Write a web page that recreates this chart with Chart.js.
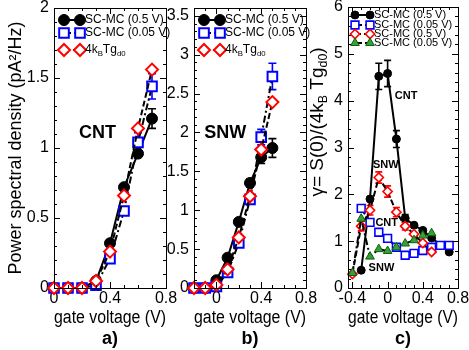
<!DOCTYPE html>
<html>
<head>
<meta charset="utf-8">
<script src="https://cdn.jsdelivr.net/npm/chart.js@4.4.1/dist/chart.umd.min.js"></script>
<style>
  html, body { margin: 0; padding: 0; background: #fff; }
  #wrap { position: relative; width: 469px; height: 350px; }
  #wrap canvas { position: absolute; left: 0; top: 0; }
</style>
</head>
<body>
<div id="wrap">
  <canvas id="chartA" width="469" height="350"></canvas>
  <canvas id="chartB" width="469" height="350"></canvas>
  <canvas id="chartC" width="469" height="350"></canvas>
</div>
<script>
// ---- panel a) CNT ----
const gateA = [0, 0.1, 0.2, 0.3, 0.4, 0.5, 0.6, 0.7];
const cntHighA = [0, 0, 0, 0.05, 0.32, 0.72, 0.96, 1.21];
const cntHighErrA = [0, 0, 0, 0, 0, 0, 0, 0.07];
const cntLowA = [0, 0, 0, 0.02, 0.21, 0.55, 1.04, 1.44];
const cntLowErrA = [0, 0, 0, 0, 0, 0, 0.07, 0.09];
const cntThermA = [0, 0, 0, 0.05, 0.26, 0.66, 1.14, 1.56];
const xTicksA = [0, 0.4, 0.8];
const yTicksA = [0, 0.5, 1, 1.5, 2];

// ---- panel b) SNW ----
const gateB = [-0.2, -0.1, 0, 0.1, 0.2, 0.3, 0.4, 0.5];
const snwHighB = [0, 0, 0.10, 0.39, 0.85, 1.35, 1.68, 1.80];
const snwHighErrB = [0, 0, 0, 0, 0, 0.05, 0.08, 0.12];
const snwLowB = [0, 0, 0.02, 0.20, 0.58, 1.14, 1.94, 2.72];
const snwLowErrB = [0, 0, 0, 0, 0, 0, 0.10, 0.17];
const snwThermB = [0, 0, 0.04, 0.24, 0.65, 1.18, 1.78, 2.39];
const xTicksB = [0, 0.4, 0.8];
const yTicksB = [0, 0.5, 1, 1.5, 2, 2.5, 3, 3.5];

// ---- panel c) gamma ----
const gateCntHighC = [-0.3, -0.2, -0.1, 0, 0.1, 0.2, 0.3, 0.4, 0.5, 0.7];
const cntHighC = [0.38, 1.90, 4.52, 4.58, 3.18, 1.49, 1.34, 1.23, 1.07, 0.77];
const cntHighErrC = [0, 0, 0.28, 0.28, 0.18, 0.08, 0, 0, 0, 0];
const gateCntLowC = [-0.3, -0.2, -0.1, 0, 0.1, 0.2, 0.3, 0.4, 0.5, 0.6, 0.7];
const cntLowC = [1.70, 1.40, 1.19, 1.06, 0.87, 0.70, 0.74, 0.80, 0.87, 0.91, 0.91];
const gateSnwC = [-0.4, -0.3, -0.2, -0.1, 0, 0.1, 0.2, 0.3, 0.4, 0.5];
const snwHighC = [0.30, 1.32, 1.66, 2.36, 2.06, 1.62, 1.32, 1.15, 0.96, 0.77];
const snwHighErrC = [0, 0.1, 0.1, 0.12, 0.12, 0.1, 0.08, 0, 0, 0];
const snwLowC = [0.32, 1.48, 0.67, 0.83, 0.79, 0.87, 0.95, 1.02, 1.12, 1.17];
const xTicksC = [-0.4, 0, 0.4, 0.8];
const yTicksC = [0, 1, 2, 3, 4, 5, 6];

const FONT = '"Liberation Sans", Arial, Helvetica, sans-serif';
Chart.defaults.font.family = FONT;
Chart.defaults.color = '#000';

const DASH_DOT = [7, 3, 2, 3];
const DASHED = [6, 3];

function pts(xs, ys) {
    return xs.map((x, i) => ({ x: x, y: ys[i] }));
}

function fmtTick(v) {
    return String(parseFloat(Number(v).toFixed(2)));
}

// marker looks
function circleLook(r) {
    return { pointStyle: 'circle', pointRadius: r, pointBackgroundColor: '#000', pointBorderColor: '#000',
             pointBorderWidth: 1, borderColor: '#000', borderWidth: 2, borderDash: [], errorColor: '#000' };
}
function squareLook(r, w) {
    return { pointStyle: 'rect', pointRadius: r, pointBackgroundColor: '#fff', pointBorderColor: '#0000ff',
             pointBorderWidth: w, borderColor: '#000', borderWidth: 2, borderDash: DASH_DOT, errorColor: '#0000ff' };
}
function diamondLook(r, w, dash) {
    return { pointStyle: 'rectRot', pointRadius: r, pointBackgroundColor: '#fff', pointBorderColor: '#ff0000',
             pointBorderWidth: w, borderColor: '#000', borderWidth: 2, borderDash: dash, errorColor: '#ff0000' };
}
function triangleLook(r) {
    return { pointStyle: 'triangle', pointRadius: r, pointBackgroundColor: '#3a9c3a', pointBorderColor: '#0a640a',
             pointBorderWidth: 1, borderColor: '#000', borderWidth: 2, borderDash: DASH_DOT, errorColor: '#0a640a' };
}

function series(xs, ys, errs, look, legendText, order) {
    return Object.assign({
        data: pts(xs, ys),
        errors: errs,
        showLine: true,
        clip: false,
        order: order,
        legendText: legendText,
        pointHoverRadius: look.pointRadius
    }, look);
}

// draws text made of normal + subscript parts, starting at x (baseline-middle y)
function drawParts(ctx, parts, x, y, size, weight) {
    let cx = x;
    parts.forEach(p => {
        const s = p.sub ? size * 0.65 : size;
        ctx.font = (weight || 'normal') + ' ' + s + 'px ' + FONT;
        ctx.fillText(p.t, cx, p.sub ? y + size * 0.3 : y);
        cx += ctx.measureText(p.t).width;
    });
    return cx - x;
}
function partsWidth(ctx, parts, size) {
    let w = 0;
    parts.forEach(p => {
        ctx.font = (p.sub ? size * 0.65 : size) + 'px ' + FONT;
        w += ctx.measureText(p.t).width;
    });
    return w;
}

const panelDecor = {
    id: 'panelDecor',
    beforeDatasetsDraw(chart, args, opts) {
        const ctx = chart.ctx, xs = chart.scales.x, ys = chart.scales.y;
        chart.data.datasets.forEach(ds => {
            if (!ds.errors) return;
            ctx.save();
            ctx.strokeStyle = ds.errorColor;
            ctx.lineWidth = 1.6;
            ds.data.forEach((p, i) => {
                const e = ds.errors[i];
                if (!e) return;
                const px = xs.getPixelForValue(p.x);
                const y1 = ys.getPixelForValue(p.y + e);
                const y2 = ys.getPixelForValue(p.y - e);
                ctx.beginPath();
                ctx.moveTo(px, y1); ctx.lineTo(px, y2);
                ctx.moveTo(px - opts.cap, y1); ctx.lineTo(px + opts.cap, y1);
                ctx.moveTo(px - opts.cap, y2); ctx.lineTo(px + opts.cap, y2);
                ctx.stroke();
            });
            ctx.restore();
        });
    },
    afterDraw(chart, args, opts) {
        const ctx = chart.ctx, a = chart.chartArea, xs = chart.scales.x, ys = chart.scales.y;
        ctx.save();
        // frame
        ctx.strokeStyle = '#000';
        ctx.lineWidth = 1;
        ctx.strokeRect(Math.round(a.left) + 0.5, Math.round(a.top) + 0.5,
                       Math.round(a.right - a.left), Math.round(a.bottom - a.top));
        // inward ticks, all four sides
        ctx.beginPath();
        const x0 = Math.ceil(xs.min / opts.minorX - 1e-6);
        for (let k = x0; k * opts.minorX <= xs.max + 1e-9; k++) {
            const v = k * opts.minorX;
            const major = Math.abs(v / opts.majorX - Math.round(v / opts.majorX)) < 1e-6;
            const len = major ? 6 : 3;
            const px = Math.round(xs.getPixelForValue(v)) + 0.5;
            ctx.moveTo(px, a.bottom); ctx.lineTo(px, a.bottom - len);
            ctx.moveTo(px, a.top); ctx.lineTo(px, a.top + len);
        }
        for (let k = 0; k * opts.minorY <= ys.max + 1e-9; k++) {
            const v = k * opts.minorY;
            const major = Math.abs(v / opts.majorY - Math.round(v / opts.majorY)) < 1e-6;
            const len = major ? 6 : 3;
            const py = Math.round(ys.getPixelForValue(v)) + 0.5;
            ctx.moveTo(a.left, py); ctx.lineTo(a.left + len, py);
            ctx.moveTo(a.right, py); ctx.lineTo(a.right - len, py);
        }
        ctx.stroke();

        // legend
        ctx.fillStyle = '#000';
        ctx.textBaseline = 'middle';
        ctx.textAlign = 'left';
        const items = chart.data.datasets.slice().sort((p, q) => p.legendRank - q.legendRank);
        items.forEach((ds, i) => {
            const y = a.top + opts.legend.rows[i];
            const m1 = a.left + opts.legend.m1, m2 = a.left + opts.legend.m2;
            ctx.save();
            ctx.strokeStyle = ds.borderColor;
            ctx.lineWidth = ds.borderWidth;
            ctx.setLineDash(ds.borderDash);
            ctx.beginPath(); ctx.moveTo(m1, y); ctx.lineTo(m2, y); ctx.stroke();
            ctx.setLineDash([]);
            ctx.fillStyle = ds.pointBackgroundColor;
            ctx.strokeStyle = ds.pointBorderColor;
            ctx.lineWidth = ds.pointBorderWidth;
            [m1, m2].forEach(mx => Chart.helpers.drawPoint(ctx, {
                pointStyle: ds.pointStyle, radius: ds.pointRadius, rotation: 0, borderWidth: ds.pointBorderWidth
            }, mx, y));
            ctx.restore();
            ctx.fillStyle = '#000';
            drawParts(ctx, ds.legendText, a.left + opts.legend.text, y, opts.legend.size);
        });

        // labels inside the panel
        ctx.textAlign = 'center';
        opts.notes.forEach(n => {
            ctx.font = 'bold ' + n.size + 'px ' + FONT;
            ctx.fillText(n.text, xs.getPixelForValue(n.x), ys.getPixelForValue(n.y));
        });

        // panel tag a) b) c)
        ctx.font = 'bold 18px ' + FONT;
        ctx.fillText(opts.tag, (a.left + a.right) / 2, 339);

        // rotated title with subscripts
        if (opts.yTitle) {
            const w = partsWidth(ctx, opts.yTitle.parts, opts.yTitle.size);
            ctx.translate(a.left - opts.yTitle.dx, opts.yTitle.cy);
            ctx.rotate(-Math.PI / 2);
            ctx.textAlign = 'left';
            drawParts(ctx, opts.yTitle.parts, -w / 2, 0, opts.yTitle.size);
        }
        ctx.restore();
    }
};

function axes(o) {
    return {
        x: {
            type: 'linear', position: 'bottom', min: o.xMin, max: o.xMax,
            grid: { display: false, drawTicks: false }, border: { display: false },
            afterBuildTicks: s => { s.ticks = o.xTicks.map(v => ({ value: v })); },
            ticks: { color: '#000', padding: 1, maxRotation: 0, autoSkip: false, font: { size: 16 }, callback: fmtTick },
            title: { display: true, text: 'gate voltage (V)', color: '#000', font: { size: 18 }, padding: 0 },
            afterFit: s => { s.height = 41; s.paddingLeft = 0; s.paddingRight = 0; }
        },
        y: {
            type: 'linear', position: 'left', min: 0, max: o.yMax,
            grid: { display: false, drawTicks: false }, border: { display: false },
            afterBuildTicks: s => { s.ticks = o.yTicks.map(v => ({ value: v })); },
            ticks: { color: '#000', padding: 5, autoSkip: false, font: { size: 16 }, callback: fmtTick },
            title: { display: !!o.yTitle, text: o.yTitle || '', color: '#000', font: { size: 18 }, padding: 0 },
            afterFit: s => { s.width = o.yWidth; s.paddingTop = 0; s.paddingBottom = 0; }
        }
    };
}

function makeChart(id, datasets, o, decor) {
    return new Chart(document.getElementById(id), {
        type: 'scatter',
        data: { datasets: datasets },
        options: {
            responsive: false,
            animation: false,
            events: [],
            layout: { autoPadding: false, padding: o.padding },
            scales: axes(o),
            plugins: { legend: { display: false }, tooltip: { enabled: false }, panelDecor: decor }
        },
        plugins: [panelDecor]
    });
}

const txtHigh = [{ t: 'SC-MC (0.5 V)' }];
const txtLow = [{ t: 'SC-MC (0.05 V)' }];
const txtTherm = [{ t: '4k' }, { t: 'B', sub: true }, { t: 'Tg' }, { t: 'd0', sub: true }];

function withRank(ds, r) { ds.legendRank = r; return ds; }

// a)
makeChart('chartA', [
    withRank(series(gateA, cntHighA, cntHighErrA, circleLook(5.5), txtHigh, 2), 0),
    withRank(series(gateA, cntLowA, cntLowErrA, squareLook(6.8, 2), txtLow, 1), 1),
    withRank(series(gateA, cntThermA, null, diamondLook(6, 2, DASHED), txtTherm, 0), 2)
], {
    xMin: 0, xMax: 0.8, yMax: 2, xTicks: xTicksA, yTicks: yTicksA, yWidth: 49,
    yTitle: 'Power spectral density (pA\u00B2/Hz)',
    padding: { left: 5, right: 303, top: 8, bottom: 21 }
}, {
    cap: 4, minorX: 0.1, majorX: 0.4, minorY: 0.1, majorY: 0.5, tag: 'a)',
    legend: { rows: [12, 25, 42], m1: 10, m2: 26, text: 31, size: 12 },
    notes: [{ text: 'CNT', x: 0.31, y: 1.11, size: 18 }]
});

// b)
makeChart('chartB', [
    withRank(series(gateB, snwHighB, snwHighErrB, circleLook(5.5), txtHigh, 2), 0),
    withRank(series(gateB, snwLowB, snwLowErrB, squareLook(6.8, 2), txtLow, 1), 1),
    withRank(series(gateB, snwThermB, null, diamondLook(6, 2, DASHED), txtTherm, 0), 2)
], {
    xMin: -0.2, xMax: 0.8, yMax: 3.6, xTicks: xTicksB, yTicks: yTicksB, yWidth: 40,
    padding: { left: 154, right: 163, top: 8, bottom: 21 }
}, {
    cap: 4, minorX: 0.1, majorX: 0.4, minorY: 0.1, majorY: 0.5, tag: 'b)',
    legend: { rows: [12, 25, 42], m1: 10, m2: 26, text: 31, size: 12 },
    notes: [{ text: 'SNW', x: 0.08, y: 1.99, size: 18 }]
});

// c)
makeChart('chartC', [
    withRank(series(gateCntHighC, cntHighC, cntHighErrC, circleLook(4), txtHigh, 3), 0),
    withRank(series(gateCntLowC, cntLowC, null, squareLook(5.5, 1.6), txtLow, 2), 1),
    withRank(series(gateSnwC, snwHighC, snwHighErrC, diamondLook(4.6, 1.6, DASHED), txtHigh, 1), 2),
    withRank(series(gateSnwC, snwLowC, null, triangleLook(5), txtLow, 0), 3)
], {
    xMin: -0.45, xMax: 0.8, yMax: 6, xTicks: xTicksC, yTicks: yTicksC, yWidth: 35,
    padding: { left: 313, right: 11, top: 7, bottom: 21 }
}, {
    cap: 3.5, minorX: 0.1, majorX: 0.4, minorY: 0.2, majorY: 1, tag: 'c)',
    legend: { rows: [8, 18, 27, 36], m1: 7, m2: 22, text: 26, size: 11 },
    notes: [
        { text: 'CNT', x: 0.21, y: 4.09, size: 11 },
        { text: 'SNW', x: -0.02, y: 2.62, size: 11 },
        { text: 'CNT', x: -0.01, y: 1.38, size: 11 },
        { text: 'SNW', x: -0.07, y: 0.43, size: 11 }
    ],
    yTitle: {
        size: 19, dx: 30, cy: 122,
        parts: [{ t: '\u03B3= S(0)/(4k' }, { t: 'B', sub: true }, { t: ' Tg' }, { t: 'd0', sub: true }, { t: ')' }]
    }
});
</script>
</body>
</html>
